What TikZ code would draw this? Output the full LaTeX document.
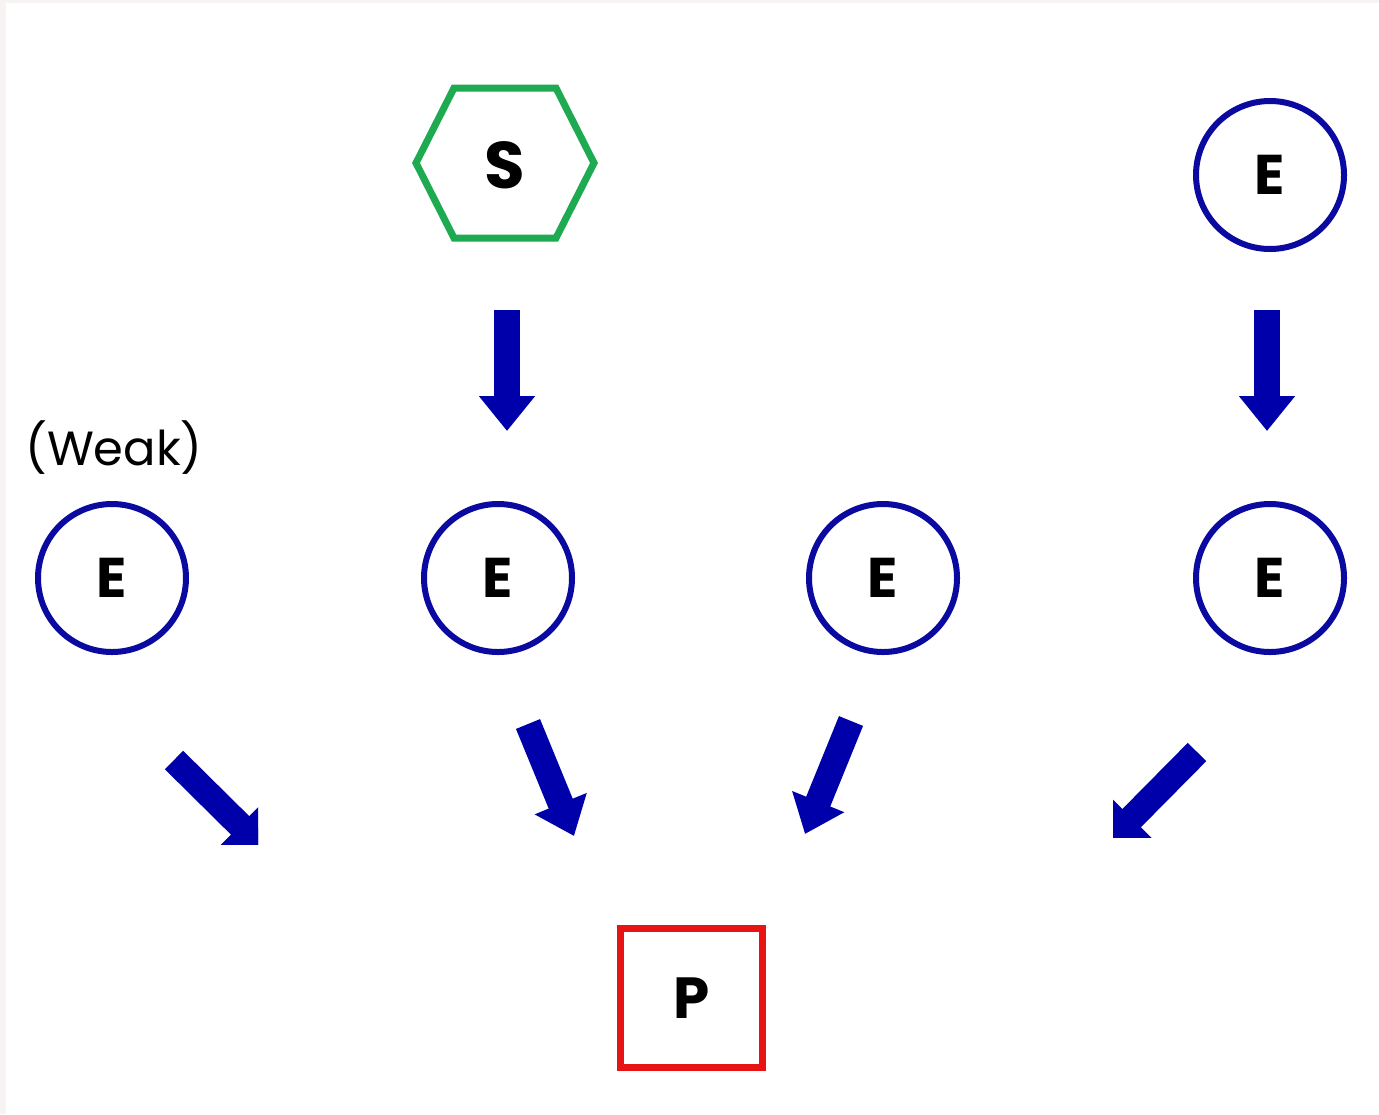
\documentclass[tikz,border=0pt]{standalone}
\usepackage{fontspec}
\setmainfont{Poppins}
\usetikzlibrary{arrows.meta}
\definecolor{nodeblue}{RGB}{10,10,160}
\definecolor{arrblue}{RGB}{0,0,170}
\definecolor{hexgreen}{RGB}{30,170,80}
\definecolor{boxred}{RGB}{232,20,20}
\definecolor{edgegray}{RGB}{247,243,243}
\tikzset{
  enode/.style={circle, draw=nodeblue, line width=3pt, minimum size=74pt, inner sep=0pt,
    font=\bfseries\fontsize{28}{30}\selectfont},
  snode/.style={inner sep=0pt, font=\bfseries\fontsize{33}{35}\selectfont},
  hexline/.style={draw=hexgreen, line width=3.5pt, line join=miter},
  pnode/.style={rectangle, draw=boxred, line width=3.5pt, minimum width=71pt, minimum height=69.5pt,
    inner sep=0pt, font=\bfseries\fontsize{29}{31}\selectfont},
  blockarrow/.style={draw=arrblue, line width=13pt,
    -{Triangle[width=27pt,length=17.5pt]}, arrblue},
  weaklabel/.style={inner sep=0pt, font=\fontsize{24}{27}\selectfont}
}
\begin{document}
\begin{tikzpicture}[x=0.5pt,y=-0.5pt]
\useasboundingbox (0,0) rectangle (1379,1114);
\fill[edgegray] (0,0) rectangle (1379,1114);
\fill[white] (6,3) rectangle (1379,1114);

% nodes
\node[snode] (S) at (505,165) {S};
\draw[hexline] (S.center) ++(-89,-2) -- ++(38,-75) -- ++(102,0) -- ++(38,75)
  -- ++(-38,75) -- ++(-102,0) -- cycle;
\node[enode] (Etop) at (1270,175) {E};
\node[weaklabel] (weak) at (114,448) {(Weak)};
\node[enode] (E1) at (112,578) {E};
\node[enode] (E2) at (498,578) {E};
\node[enode] (E3) at (883,578) {E};
\node[enode] (E4) at (1270,578) {E};
\node[pnode] (P) at (691.5,998) {P};

% arrow end points
\coordinate (a1s) at (507,310);  \coordinate (a1e) at (507,431);
\coordinate (a2s) at (1267,310); \coordinate (a2e) at (1267,431);
\coordinate (d1s) at (174,760);  \coordinate (d1e) at (265,850);
\coordinate (d2s) at (528,724);  \coordinate (d2e) at (574,836);
\coordinate (d3s) at (851,721);  \coordinate (d3e) at (805,834);
\coordinate (d4s) at (1197,752); \coordinate (d4e) at (1107,843);

% arrows
\draw[blockarrow] (a1s) -- (a1e);
\draw[blockarrow] (a2s) -- (a2e);
\begin{scope}
  \clip (100,700) rectangle (258,844);
  \draw[blockarrow] (d1s) -- (d1e);
\end{scope}
\draw[blockarrow] (d2s) -- (d2e);
\draw[blockarrow] (d3s) -- (d3e);
\begin{scope}
  \clip (1113,700) rectangle (1260,837);
  \draw[blockarrow] (d4s) -- (d4e);
\end{scope}
\end{tikzpicture}
\end{document}
